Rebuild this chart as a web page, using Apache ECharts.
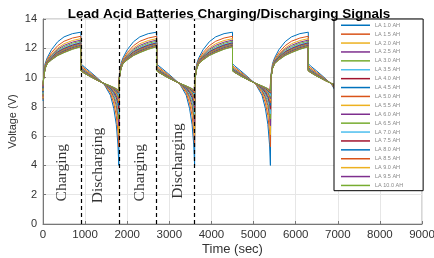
<!DOCTYPE html>
<html>
<head>
<meta charset="utf-8">
<script src="https://cdn.jsdelivr.net/npm/echarts@6/dist/echarts.min.js"></script>
<style>
  html, body { margin: 0; padding: 0; background: #fff; }
  #chart { width: 434px; height: 258px; }
</style>
</head>
<body>
<div id="chart"></div>
<script>
// battery names (legend order)
const batteries = [
  'LA 1.0 AH', 'LA 1.5 AH', 'LA 2.0 AH', 'LA 2.5 AH', 'LA 3.0 AH', 'LA 3.5 AH',
  'LA 4.0 AH', 'LA 4.5 AH', 'LA 5.0 AH', 'LA 5.5 AH', 'LA 6.0 AH', 'LA 6.5 AH',
  'LA 7.0 AH', 'LA 7.5 AH', 'LA 8.0 AH', 'LA 8.5 AH', 'LA 9.0 AH', 'LA 9.5 AH', 'LA 10.0 AH'
]
const colors = ['#0072BD', '#D95319', '#EDB120', '#7E2F8E', '#77AC30', '#4DBEEE', '#A2142F']

// seconds into each phase where voltages were read
const chargeTimes = [15, 50, 100, 200, 350, 500, 700, 900]
const dischargeTimes = [0, 50, 200, 400, 550, 700, 780, 840, 880, 900]
const cycleStarts = [0, 1800, 3600, 5400]
const phaseLength = 900

const startVoltage = [8.4, 8.5, 8.6, 8.7, 8.8, 8.9, 9.0, 9.0, 9.1, 9.1, 9.2, 9.2, 9.3, 9.3, 9.3, 9.4, 9.4, 9.4, 9.5]

const chargeVoltage = [
  [10.20, 10.95, 11.35, 11.90, 12.45, 12.78, 13.00, 13.10],
  [10.14, 10.85, 11.24, 11.70, 12.18, 12.48, 12.70, 12.82],
  [10.11, 10.80, 11.17, 11.59, 12.03, 12.31, 12.53, 12.66],
  [10.09, 10.76, 11.13, 11.52, 11.94, 12.20, 12.42, 12.56],
  [10.08, 10.73, 11.10, 11.47, 11.86, 12.11, 12.34, 12.48],
  [10.06, 10.71, 11.08, 11.42, 11.80, 12.05, 12.27, 12.42],
  [10.05, 10.69, 11.06, 11.39, 11.76, 11.99, 12.22, 12.37],
  [10.05, 10.68, 11.04, 11.36, 11.72, 11.95, 12.18, 12.33],
  [10.04, 10.67, 11.03, 11.34, 11.69, 11.92, 12.14, 12.30],
  [10.03, 10.66, 11.02, 11.32, 11.66, 11.88, 12.11, 12.27],
  [10.03, 10.65, 11.01, 11.30, 11.64, 11.86, 12.09, 12.25],
  [10.03, 10.64, 11.00, 11.29, 11.62, 11.84, 12.06, 12.23],
  [10.02, 10.64, 10.99, 11.27, 11.60, 11.81, 12.04, 12.21],
  [10.02, 10.63, 10.99, 11.26, 11.58, 11.80, 12.02, 12.19],
  [10.01, 10.62, 10.98, 11.25, 11.57, 11.78, 12.01, 12.17],
  [10.01, 10.62, 10.97, 11.24, 11.55, 11.76, 11.99, 12.16],
  [10.01, 10.61, 10.97, 11.23, 11.54, 11.74, 11.97, 12.14],
  [10.00, 10.61, 10.96, 11.21, 11.52, 11.72, 11.95, 12.12],
  [10.00, 10.60, 10.95, 11.20, 11.50, 11.70, 11.93, 12.10]
]

const dischargeVoltage = [
  [10.95, 10.80, 10.45, 9.95, 9.55, 8.80, 7.90, 6.80, 5.40, 4.00],
  [10.83, 10.69, 10.36, 9.91, 9.56, 8.96, 8.26, 7.41, 6.34, 5.28],
  [10.75, 10.62, 10.31, 9.89, 9.57, 9.06, 8.49, 7.80, 6.95, 6.10],
  [10.69, 10.56, 10.26, 9.87, 9.58, 9.13, 8.66, 8.10, 7.40, 6.71],
  [10.64, 10.52, 10.23, 9.86, 9.58, 9.19, 8.79, 8.32, 7.74, 7.17],
  [10.61, 10.49, 10.21, 9.85, 9.58, 9.23, 8.89, 8.49, 8.00, 7.53],
  [10.58, 10.46, 10.19, 9.84, 9.59, 9.27, 8.97, 8.64, 8.23, 7.84],
  [10.55, 10.44, 10.17, 9.83, 9.59, 9.30, 9.04, 8.76, 8.42, 8.10],
  [10.53, 10.42, 10.16, 9.82, 9.59, 9.33, 9.09, 8.85, 8.55, 8.28],
  [10.52, 10.41, 10.15, 9.82, 9.59, 9.35, 9.14, 8.92, 8.66, 8.43],
  [10.51, 10.40, 10.14, 9.82, 9.59, 9.36, 9.17, 8.98, 8.76, 8.56],
  [10.50, 10.39, 10.13, 9.81, 9.60, 9.37, 9.20, 9.03, 8.83, 8.66],
  [10.49, 10.38, 10.12, 9.81, 9.60, 9.39, 9.23, 9.08, 8.91, 8.76],
  [10.48, 10.37, 10.12, 9.81, 9.60, 9.40, 9.25, 9.12, 8.96, 8.84],
  [10.47, 10.37, 10.11, 9.81, 9.60, 9.41, 9.27, 9.15, 9.02, 8.92],
  [10.47, 10.36, 10.11, 9.80, 9.60, 9.41, 9.29, 9.18, 9.06, 8.97],
  [10.46, 10.36, 10.11, 9.80, 9.60, 9.42, 9.30, 9.20, 9.09, 9.02],
  [10.46, 10.35, 10.10, 9.80, 9.60, 9.42, 9.32, 9.23, 9.13, 9.07],
  [10.45, 10.35, 10.10, 9.80, 9.60, 9.43, 9.33, 9.25, 9.17, 9.12]
]

// phase boundaries (dashed) and the text written between them
const phaseMarks = [900, 1800, 2700, 3600]
const phaseLabels = ['Charging', 'Discharging', 'Charging', 'Discharging']
const phaseLabelPos = [[450, 3.5], [1300, 4.0], [2300, 3.5], [3200, 4.3]]

function buildLine(i) {
  const pts = [[0, startVoltage[i]]]
  cycleStarts.forEach(c => {
    chargeTimes.forEach((t, k) => pts.push([c + t, chargeVoltage[i][k]]))
    dischargeTimes.forEach((t, k) => pts.push([c + phaseLength + t, dischargeVoltage[i][k]]))
  })
  return pts
}

const chart = echarts.init(document.getElementById('chart'))

const series = batteries.map((name, i) => ({
  name: name,
  type: 'line',
  symbol: 'none',
  color: colors[i % colors.length],
  lineStyle: { width: 1 },
  data: buildLine(i),
  z: 2
}))

series.push({
  type: 'scatter',
  symbolSize: 0,
  z: 5,
  data: phaseLabelPos.map((p, i) => ({ value: p, name: phaseLabels[i] })),
  label: {
    show: true,
    position: 'inside',
    rotate: 90,
    formatter: p => p.name,
    fontFamily: 'Liberation Serif',
    fontSize: 15.5,
    color: '#000'
  },
  markLine: {
    silent: true,
    symbol: 'none',
    label: { show: false },
    lineStyle: { color: '#000', type: [4, 3], width: 1.2 },
    data: phaseMarks.map(x => ({ xAxis: x }))
  }
})

chart.setOption({
  animation: false,
  textStyle: { fontFamily: 'Liberation Sans' },
  title: {
    text: 'Lead Acid Batteries Charging/Discharging Signals',
    left: 224,
    textAlign: 'center',
    top: 2,
    textStyle: { fontSize: 13.5, fontWeight: 'bold', color: '#000', fontFamily: 'Liberation Sans' }
  },
  grid: {
    left: 43,
    right: 12,
    top: 19,
    bottom: 34,
    outerBoundsMode: 'none',
    containLabel: false,
    show: true,
    borderColor: '#999',
    borderWidth: 0.8
  },
  legend: {
    data: batteries,
    orient: 'vertical',
    left: 334,
    top: 19,
    padding: [3, 20, 2, 7],
    itemGap: 2.4,
    itemWidth: 29,
    itemHeight: 1.5,
    icon: 'rect',
    backgroundColor: '#fff',
    borderColor: '#000',
    borderWidth: 1,
    textStyle: { fontSize: 5.5, color: '#888', lineHeight: 6.5 }
  },
  xAxis: {
    type: 'value',
    min: 0,
    max: 9000,
    interval: 1000,
    name: 'Time (sec)',
    nameLocation: 'middle',
    nameGap: 19,
    nameMoveOverlap: false,
    nameTextStyle: { fontSize: 13, color: '#333' },
    axisLine: { lineStyle: { color: '#777' } },
    axisTick: { inside: true, length: 3, lineStyle: { color: '#777' } },
    axisLabel: { fontSize: 11.5, color: '#333', margin: 5, formatter: v => String(v) },
    splitLine: { lineStyle: { color: '#e6e6e6' } }
  },
  yAxis: {
    type: 'value',
    min: 0,
    max: 14,
    interval: 2,
    name: 'Voltage (V)',
    nameLocation: 'middle',
    nameGap: 25,
    nameMoveOverlap: false,
    nameTextStyle: { fontSize: 11, color: '#333' },
    axisLine: { show: true, lineStyle: { color: '#777' } },
    axisTick: { show: true, inside: true, length: 3, lineStyle: { color: '#777' } },
    axisLabel: { fontSize: 11, color: '#333', margin: 6 },
    splitLine: { lineStyle: { color: '#e6e6e6' } }
  },
  series: series
})
</script>
</body>
</html>
